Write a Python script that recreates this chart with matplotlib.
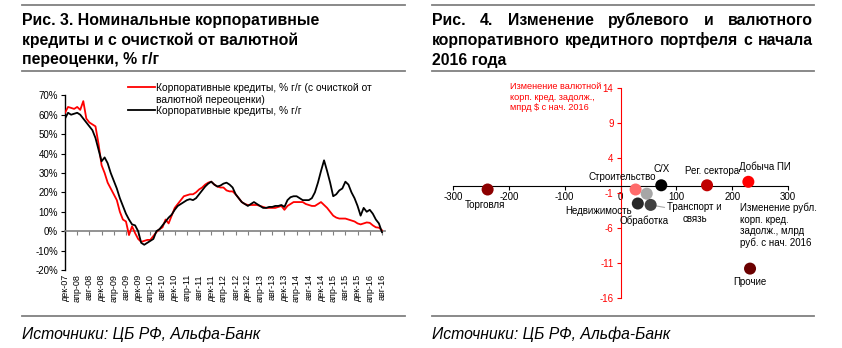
import matplotlib
matplotlib.use('Agg')
import matplotlib.pyplot as plt
from matplotlib.lines import Line2D
import numpy as np

plt.rcParams['font.family'] = ['Liberation Sans', 'DejaVu Sans']
plt.rcParams['axes.unicode_minus'] = False

W, H = 842, 348

# ---------------- data: left chart (monthly, Dec-2007 .. Aug-2016) ----------------
loans_fx_adj = [61, 64, 63.5, 63, 64, 62.5, 67, 58, 56, 55, 54, 45, 34, 30, 25, 22, 19, 16, 10, 6,
                5, -2, 2.5, -1, -4, -5.5, -5, -4.5, -4.5, -2.5, -0.5, 1, 2, 6, 4, 8, 12, 14, 16, 18,
                18.5, 19, 19, 20, 21.5, 22.5, 24, 25, 25.5, 24, 23, 22.5, 22.5, 21, 20.5, 20.5, 19, 17, 15, 14,
                13.5, 13.5, 13.5, 13.5, 13, 12.5, 12, 12, 12, 12, 12.5, 13, 11, 13, 14, 15, 15, 15, 15, 14,
                13.5, 13, 13, 14, 15, 13.5, 12, 10, 8, 7, 6.5, 6.5, 6.5, 6, 5.5, 5, 4, 3.5, 4, 4.5,
                4.3, 3, 2, 1.8, 0.5]
loans_nominal = [58, 61, 60, 60.5, 61, 60, 58, 56, 54, 52, 48, 42, 36, 38, 35, 30, 26, 22, 17, 13,
                 9, 6, 3.5, 3, 0, -6, -7, -6, -5, -4, 0, 1, 3, 5, 7, 8.5, 11, 13, 14, 15,
                 16, 16.5, 16, 17, 19, 21, 23, 24.5, 25.5, 24, 23, 23.5, 24.5, 25, 24, 22.5, 19, 17, 15, 14,
                 13, 14, 15, 14, 13, 12, 12, 12.5, 12.5, 13, 13, 13.5, 12.5, 16, 17.5, 18, 18, 17, 16, 16,
                 16, 17, 20, 25, 31, 36.5, 31, 25, 18, 19, 21, 22, 25.5, 24, 20, 17, 13, 8, 12, 10,
                 11, 9, 6, 4, -0.5]
month_labels = ['дек-07', 'апр-08', 'авг-08', 'дек-08', 'апр-09', 'авг-09', 'дек-09', 'апр-10', 'авг-10',
                'дек-10', 'апр-11', 'авг-11', 'дек-11', 'апр-12', 'авг-12', 'дек-12', 'апр-13', 'авг-13',
                'дек-13', 'апр-14', 'авг-14', 'дек-14', 'апр-15', 'авг-15', 'дек-15', 'апр-16', 'авг-16']
series_labels = ['Корпоративные кредиты, % г/г (с очисткой от\nвалютной переоценки)',
                 'Корпоративные кредиты, % г/г']

# ---------------- data: right chart ----------------
sectors = ['Торговля', 'Строительство', 'Обработка', 'С/Х', 'Рег. сектора', 'Добыча ПИ',
           'Недвижимость', 'Транспорт и\nсвязь', 'Прочие']
rub_change = [-238, 27, 47, 73, 155, 229, 31, 54, 232]      # млрд руб.
usd_change = [-0.5, -0.5, -1.1, 0.1, 0.1, 0.6, -2.5, -2.7, -11.8]  # млрд $

# styles (not data)
sector_colors = ['#8c0000', '#ff6b6b', '#a6a6a6', '#000000', '#c00000', '#ff0000',
                 '#262626', '#404040', '#6b0000']
label_offsets = [(-3, -16), (-13, 13), (-3, -27), (0, 16), (5, 14), (17, 15),
                 (-39, -8), (44, -8), (0, -13)]

fig = plt.figure(figsize=(W / 100, H / 100), dpi=100)
fig.patch.set_facecolor('white')

def fx(px):
    return px / W

def fy(py):
    return 1 - py / H

# ---------------- left chart ----------------
ax1 = fig.add_axes([fx(65), fy(270), (385 - 65) / W, (270 - 95.3) / H])
idx = np.arange(len(loans_nominal))
l_red, = ax1.plot(idx, loans_fx_adj, color='#ff0000', lw=1.3, zorder=3)
l_blk, = ax1.plot(idx, loans_nominal, color='#000000', lw=1.3, zorder=4)
ax1.set_xlim(0, 105)
ax1.set_ylim(-20, 70)
yt = list(range(-20, 71, 10))
ax1.set_yticks(yt)
ax1.set_yticklabels([f'{v}%' for v in yt], fontsize=7)
for s in ['top', 'right']:
    ax1.spines[s].set_visible(False)
ax1.spines['bottom'].set_position(('data', 0))
ax1.spines['bottom'].set_color('#808080')
ax1.spines['bottom'].set_linewidth(1.2)
ax1.spines['left'].set_linewidth(1.0)
xt = list(range(0, len(loans_nominal), 4))
ax1.set_xticks(xt)
ax1.tick_params(axis='x', direction='out', length=3, color='#808080', labelbottom=False)
ax1.tick_params(axis='y', direction='out', length=3, pad=2)
sec = ax1.secondary_xaxis('bottom')
sec.set_xticks(xt)
sec.set_xticklabels(month_labels, rotation=90, fontsize=6.5)
sec.tick_params(length=0, pad=3)
sec.spines['bottom'].set_visible(False)

blank = Line2D([], [], color='none')
leg = ax1.legend([l_red, blank, l_blk],
                 [series_labels[0].split('\n')[0], series_labels[0].split('\n')[1], series_labels[1]],
                 loc='upper left', bbox_to_anchor=(fx(128), fy(83)), bbox_transform=fig.transFigure,
                 frameon=False, fontsize=7.4, handlelength=2.6, handletextpad=0.15,
                 labelspacing=0.15, borderpad=0, borderaxespad=0)

# ---------------- right chart ----------------
ax2 = fig.add_axes([fx(453), fy(298), (788 - 453) / W, (298 - 88) / H])
ax2.set_xlim(-300, 300)
ax2.set_ylim(-16, 14)
for s in ['top', 'right']:
    ax2.spines[s].set_visible(False)
ax2.spines['left'].set_position(('data', 0))
ax2.spines['left'].set_color('#ff0000')
ax2.spines['bottom'].set_position(('data', 0))
ax2.spines['bottom'].set_color('#000000')
ax2.set_xticks(list(range(-300, 301, 100)))
ax2.set_yticks(list(range(-16, 15, 5)))
ax2.tick_params(axis='x', direction='out', length=3, labelsize=7, pad=1)
ax2.tick_params(axis='y', direction='out', length=3, labelsize=7, colors='#ff0000', pad=2)
ax2.scatter(rub_change, usd_change, s=75, c=sector_colors, zorder=5, linewidths=0)
for name, x, y, off in zip(sectors, rub_change, usd_change, label_offsets):
    if name.startswith('Транспорт'):
        ax2.annotate(name, (x, y), xytext=off, textcoords='offset pixels', ha='center', va='center',
                     fontsize=7, arrowprops=dict(arrowstyle='-', color='#a6a6a6', lw=0.8,
                                                 shrinkA=0, shrinkB=4))
    else:
        ax2.annotate(name, (x, y), xytext=off, textcoords='offset pixels', ha='center', va='center',
                     fontsize=7)
ax2.text(214, -5.6, 'Изменение рубл.\nкорп. кред.\nзадолж., млрд\nруб. с нач. 2016', ha='left', va='center',
         fontsize=7, linespacing=1.15)
ax2.text(-198, 12.7, 'Изменение валютной\nкорп. кред. задолж.,\nмпрд $ с нач. 2016', ha='left', va='center',
         fontsize=6.6, color='#ff0000', linespacing=1.2)

# ---------------- titles, rules, sources ----------------
rule_kw = dict(transform=fig.transFigure, color='#808080', lw=1.3)
for x0, x1 in [(22, 405), (432, 814)]:
    fig.add_artist(Line2D([fx(x0), fx(x1)], [fy(5), fy(5)], **rule_kw))
    fig.add_artist(Line2D([fx(x0), fx(x1)], [fy(71), fy(71)], **rule_kw))
    fig.add_artist(Line2D([fx(x0), fx(x1)], [fy(316), fy(316)], **rule_kw))
    fig.text(fx(x0), fy(334), 'Источники: ЦБ РФ, Альфа-Банк', fontsize=11.3, style='italic',
             ha='left', va='center')

title_kw = dict(fontsize=11.4, fontweight='bold', va='center', ha='left')
for i, line in enumerate(['Рис. 3. Номинальные корпоративные', 'кредиты и с очисткой от валютной',
                          'переоценки, % г/г']):
    fig.text(fx(22), fy(20.7 + 19.6 * i), line, **title_kw)

renderer = fig.canvas.get_renderer()

def justified(line, x0, x1, ypx):
    words = line.split()
    texts = [fig.text(0, fy(ypx), w, **title_kw) for w in words]
    widths = [t.get_window_extent(renderer).width for t in texts]
    gap = (x1 - x0 - sum(widths)) / (len(words) - 1)
    x = x0
    for t, w in zip(texts, widths):
        t.set_x(fx(x))
        x += w + gap

justified('Рис. 4. Изменение рублевого и валютного', 432, 813, 20.7)
justified('корпоративного кредитного портфеля с начала', 432, 813, 40.3)
fig.text(fx(432), fy(60), '2016 года', **title_kw)

fig.savefig('out.png', dpi=100, facecolor='white')
